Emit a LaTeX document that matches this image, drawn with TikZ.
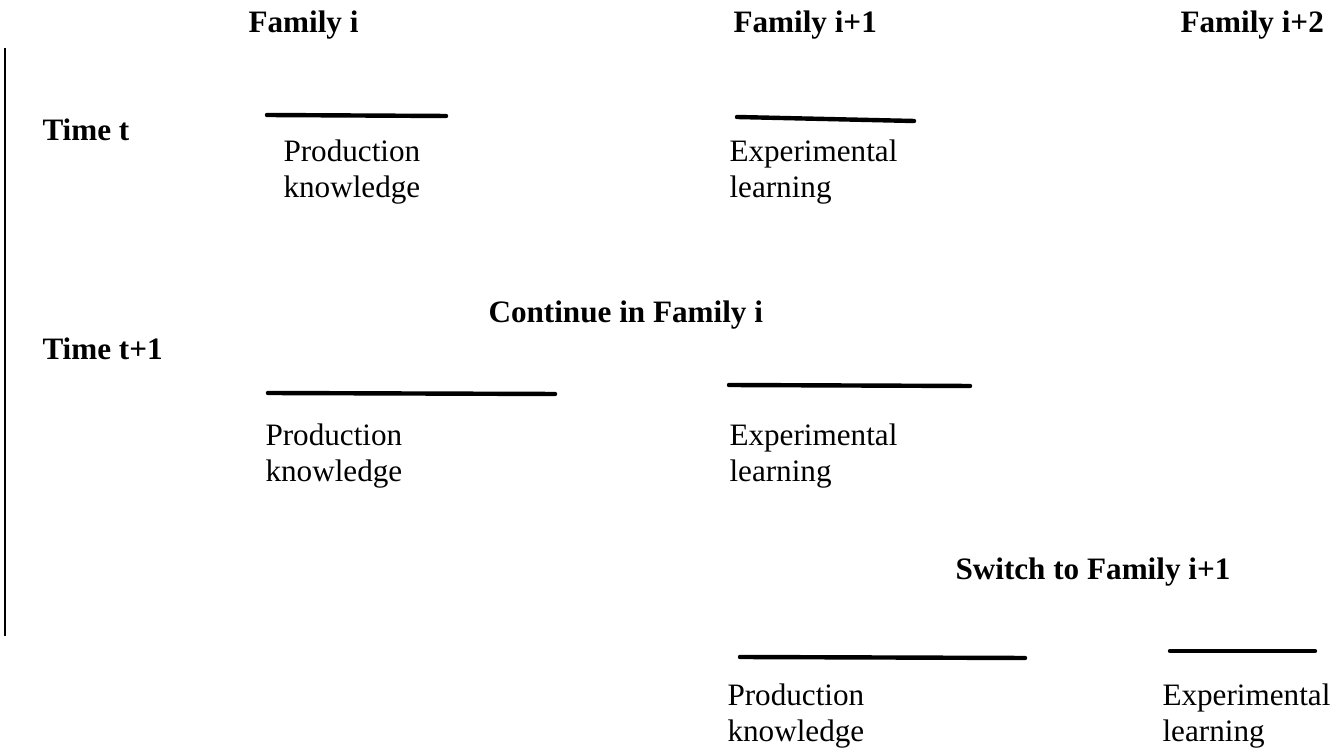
\documentclass[tikz,border=0pt]{standalone}
\usepackage{fontspec}
\setmainfont{Liberation Serif}
\usepackage{amsmath}

\begin{document}
\begin{tikzpicture}[x=0.385pt, y=-0.385pt,
		head/.style={anchor=base west, inner sep=0pt, font=\fontsize{12}{14}\selectfont\bfseries},
		kind/.style={anchor=base west, inner sep=0pt, align=left, font=\fontsize{12}{13.9}\selectfont},
		bar/.style={line width=1.7pt, line cap=round}]
					\useasboundingbox (0, 0) rectangle (1338, 752);
					% column and row headings
					\node[head] (Fi)at(248, 33) {Family i};
					\node[head] (Fj)at(733, 33) {Family i+1};
					\node[head] (Fk)at(1180, 33) {Family i+2};
					\node[head] (Tt)at(42, 141) {Time t};
					\node[head] (Tu)at(42, 360) {Time t+1};
					\node[head] (Cont)at(488, 323) {Continue in Family i};
					\node[head] (Sw)at(955, 580) {Switch to Family i+1};
					% time axis
					\coordinate (axtop)at(5, 48);
					\coordinate (axbot)at(5, 636);
					\draw[line width=1.1pt] (axtop) -- (axbot);
					% time t
					\coordinate (P1a)at(267, 115);
					\coordinate (P1b)at(446, 116);
					\coordinate (E1a)at(737, 117);
					\coordinate (E1b)at(914, 121);
					\draw[bar] (P1a) -- (P1b);
					\draw[bar] (E1a) -- (E1b);
					\node[kind] (PK1)at(283, 198) {Production\\knowledge};
					\node[kind] (EL1)at(729, 198) {Experimental\\learning};
					% time t+1, continue
					\coordinate (P2a)at(268, 393);
					\coordinate (P2b)at(555, 394);
					\coordinate (E2a)at(729, 385);
					\coordinate (E2b)at(970, 386);
					\draw[bar] (P2a) -- (P2b);
					\draw[bar] (E2a) -- (E2b);
					\node[kind] (PK2)at(265, 482) {Production\\knowledge};
					\node[kind] (EL2)at(729, 482) {Experimental\\learning};
					% time t+1, switch
					\coordinate (P3a)at(740, 657);
					\coordinate (P3b)at(1025, 658);
					\coordinate (E3a)at(1170, 651);
					\coordinate (E3b)at(1315, 651);
					\draw[bar] (P3a) -- (P3b);
					\draw[bar] (E3a) -- (E3b);
					\node[kind] (PK3)at(727, 742) {Production\\knowledge};
					\node[kind] (EL3)at(1162, 742) {Experimental\\learning};
				\end{tikzpicture}
\end{document}
